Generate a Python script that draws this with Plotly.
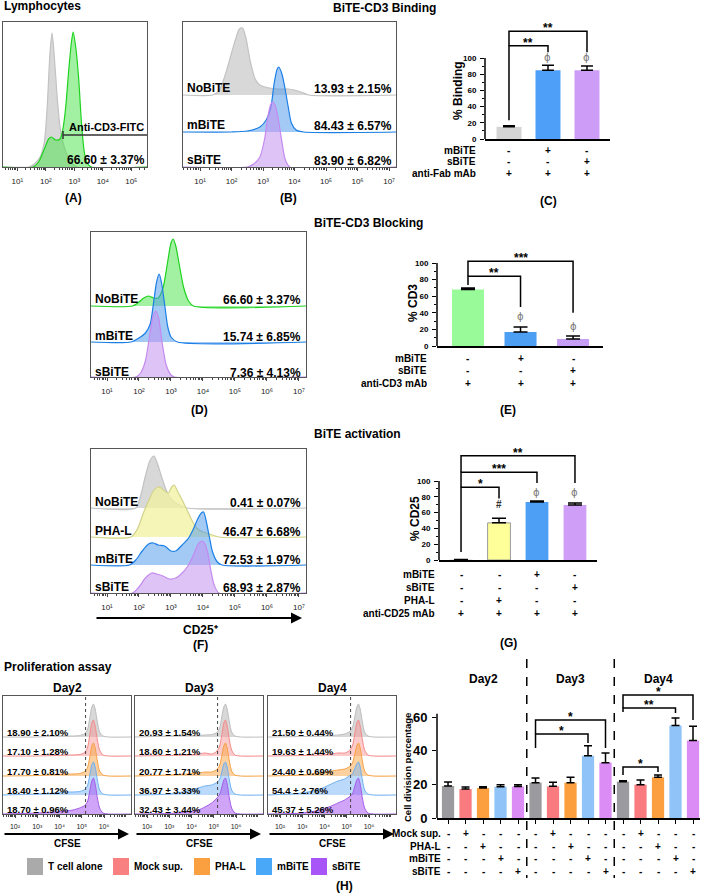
import math
import plotly.graph_objects as go

W, H = 708, 896
FONT = "Liberation Sans, Arial, Helvetica, sans-serif"
SUP = {"0": "⁰", "1": "¹", "2": "²", "3": "³", "4": "⁴", "5": "⁵", "6": "⁶", "7": "⁷", "8": "⁸", "9": "⁹"}

# ======================= DATA =======================
# (A) Lymphocytes: x = log10 fluorescence, h = histogram height
A_GRAY_X = [0.5, 1.4, 1.6, 1.8, 1.95, 2.05, 2.15, 2.22, 2.3, 2.4, 2.5, 2.6, 2.75, 2.9, 3.1, 5.55]
A_GRAY_H = [0, 0, 3, 10, 25, 60, 115, 134, 110, 70, 40, 25, 12, 4, 0, 0]
A_GREEN_X = [0.5, 1.55, 1.75, 1.95, 2.1, 2.2, 2.35, 2.5, 2.6, 2.7, 2.8, 2.9, 2.96, 3.05, 3.15, 3.25, 3.35, 3.45, 3.6, 5.55]
A_GREEN_H = [0, 0, 5, 18, 28, 30, 27, 28, 38, 60, 95, 125, 135, 120, 90, 45, 15, 4, 0, 0]
A_VALUE = "66.60 ± 3.37%"

# (B) BiTE-CD3 binding histograms
B_ROWS = ["NoBiTE", "mBiTE", "sBiTE"]
B_VALUES = ["13.93 ± 2.15%", "84.43 ± 6.57%", "83.90 ± 6.82%"]
B_GRAY_X = [0.46, 1.4, 1.6, 1.8, 2.0, 2.15, 2.25, 2.35, 2.45, 2.6, 2.75, 2.9, 3.2, 3.5, 3.8, 4.0, 4.2, 4.45, 7.22]
B_GRAY_H = [0, 0, 4, 20, 42, 58, 66, 67, 58, 33, 16, 10, 7, 6, 6, 5, 3, 0, 0]
B_BLUE_X = [0.46, 2.0, 2.5, 2.9, 3.1, 3.25, 3.35, 3.45, 3.5, 3.6, 3.7, 3.8, 3.9, 4.05, 4.3, 7.22]
B_BLUE_H = [0, 0, 1, 5, 12, 25, 48, 63, 65, 58, 43, 25, 9, 2, 0, 0]
B_PURP_X = [0.46, 2.5, 2.7, 2.9, 3.05, 3.15, 3.25, 3.32, 3.4, 3.5, 3.6, 3.7, 3.85, 7.22]
B_PURP_H = [0, 0, 3, 10, 28, 50, 63, 65, 60, 45, 25, 8, 0, 0]

# (C) % Binding
C_MEAN = [15, 85, 85]
C_UPPER = [16.5, 91, 90]
C_ROWS = ["mBiTE", "sBiTE", "anti-Fab mAb"]
C_SIGNS = [["-", "+", "-"], ["-", "-", "+"], ["+", "+", "+"]]

# (D) BiTE-CD3 blocking histograms
D_ROWS = ["NoBiTE", "mBiTE", "sBiTE"]
D_VALUES = ["66.60 ± 3.37%", "15.74 ± 6.85%", "7.36 ± 4.13%"]
D_GREEN_X = [0.5, 1.8, 2.0, 2.15, 2.3, 2.45, 2.6, 2.75, 2.9, 3.0, 3.07, 3.15, 3.25, 3.4, 3.55, 3.7, 7.22]
D_GREEN_H = [0, 0, 4, 8, 10, 8, 8, 18, 45, 63, 67, 60, 43, 18, 5, 0, 0]
D_BLUE_X = [0.5, 1.75, 2.0, 2.2, 2.35, 2.45, 2.55, 2.63, 2.7, 2.8, 2.9, 3.0, 3.2, 7.22]
D_BLUE_H = [0, 0, 4, 9, 18, 38, 60, 68, 60, 38, 15, 5, 0, 0]
D_PURP_X = [0.5, 1.9, 2.05, 2.2, 2.35, 2.45, 2.53, 2.62, 2.72, 2.85, 3.0, 3.1, 7.22]
D_PURP_H = [0, 0, 4, 16, 45, 62, 66, 58, 35, 12, 2, 0, 0]

# (E) % CD3
E_MEAN = [68, 17, 8.5]
E_UPPER = [70, 23, 12]
E_ROWS = ["mBiTE", "sBiTE", "anti-CD3 mAb"]
E_SIGNS = [["-", "+", "-"], ["-", "-", "+"], ["+", "+", "+"]]

# (F) BiTE activation histograms
F_ROWS = ["NoBiTE", "PHA-L", "mBiTE", "sBiTE"]
F_VALUES = ["0.41 ± 0.07%", "46.47 ± 6.68%", "72.53 ± 1.97%", "68.93 ± 2.87%"]
F_GRAY_X = [0.5, 1.9, 2.05, 2.2, 2.35, 2.47, 2.58, 2.7, 2.85, 3.0, 3.2, 3.5, 7.22]
F_GRAY_H = [0, 0, 12, 32, 48, 52, 44, 32, 18, 9, 4, 0, 0]
F_YEL_X = [0.5, 1.75, 1.95, 2.15, 2.3, 2.45, 2.6, 2.7, 2.8, 2.92, 3.02, 3.1, 3.2, 3.35, 3.5, 3.65, 3.8, 4.0, 4.2, 4.5, 7.22]
F_YEL_H = [0, 0, 8, 25, 36, 46, 50, 49, 46, 44, 50, 52, 46, 37, 27, 17, 9, 5, 3, 0, 0]
F_BLUE_X = [0.5, 1.7, 1.9, 2.1, 2.3, 2.45, 2.6, 2.8, 3.0, 3.15, 3.35, 3.55, 3.7, 3.85, 3.95, 4.02, 4.1, 4.2, 4.3, 4.45, 4.6, 7.22]
F_BLUE_H = [0, 0, 5, 14, 21, 22, 20, 19, 14, 14, 20, 27, 36, 47, 52, 53, 44, 28, 13, 3, 0, 0]
F_PURP_X = [0.5, 1.8, 2.0, 2.2, 2.4, 2.55, 2.75, 2.95, 3.15, 3.35, 3.55, 3.7, 3.85, 3.97, 4.05, 4.15, 4.25, 4.35, 4.5, 7.22]
F_PURP_H = [0, 0, 6, 15, 20, 19, 17, 14, 15, 20, 28, 38, 49, 52, 50, 40, 22, 8, 0, 0]

# (G) % CD25
G_MEAN = [0.41, 47, 73.4, 69.6]
G_UPPER = [0.5, 53, 74.7, 72]
G_ROWS = ["mBiTE", "sBiTE", "PHA-L", "anti-CD25 mAb"]
G_SIGNS = [["-", "-", "+", "-"], ["-", "-", "-", "+"], ["-", "+", "-", "-"], ["+", "+", "+", "+"]]

# (H) Proliferation (CFSE) histograms
H_DAYS = ["Day2", "Day3", "Day4"]
H_GROUPS = ["T cell alone", "Mock sup.", "PHA-L", "mBiTE", "sBiTE"]
H_X = [1.46, 3.0, 3.8, 4.3, 4.6, 4.9, 5.1, 5.25, 5.35, 5.45, 5.52, 5.6, 5.7, 5.8, 5.95, 6.2, 7.21]
H_CURVES = [
    [  # Day2
        [0, 0, 1, 1, 1, 1.5, 3, 7, 18, 30, 33, 28, 15, 5, 1, 0, 0],
        [0, 0, 0.5, 1, 1, 1.5, 3, 8, 20, 33, 36, 30, 16, 6, 1, 0, 0],
        [0, 0.5, 1.5, 2, 2, 2.5, 4, 8, 18, 30, 33, 28, 15, 5, 1, 0, 0],
        [0, 1, 2, 3, 3, 3.5, 5, 9, 19, 30, 33, 28, 15, 5, 1, 0, 0],
        [0, 1, 2, 3, 4, 6, 8, 12, 22, 33, 36, 30, 16, 6, 1, 0, 0],
    ],
    [  # Day3
        [0, 1, 1.5, 1.5, 2, 2.5, 4, 8, 19, 30, 33, 28, 15, 5, 1, 0, 0],
        [0, 0.5, 1, 2, 3, 2, 4, 9, 20, 33, 36, 30, 16, 6, 1, 0, 0],
        [0, 1, 2, 3, 4, 4, 6, 10, 19, 30, 33, 28, 15, 5, 1, 0, 0],
        [0, 1, 4, 7, 9, 10, 12, 15, 22, 31, 33, 28, 15, 5, 1, 0, 0],
        [0, 0.5, 2, 4, 7, 11, 15, 19, 26, 34, 36, 30, 16, 6, 1, 0, 0],
    ],
    [  # Day4
        [0, 0.5, 1, 1.5, 2, 3, 5, 9, 19, 30, 33, 28, 15, 5, 1, 0, 0],
        [0, 0.5, 1, 2, 3, 3, 5, 10, 21, 33, 36, 30, 16, 6, 1, 0, 0],
        [0, 1, 3, 5, 6, 7, 9, 13, 21, 30, 33, 28, 15, 5, 1, 0, 0],
        [0, 2, 6, 11, 14, 16, 19, 21, 26, 31, 33, 28, 15, 5, 1, 0, 0],
        [0, 1, 4, 8, 11, 14, 17, 20, 27, 34, 36, 30, 16, 6, 1, 0, 0],
    ],
]
H_GATE = 5.17
H_PCT = [
    ["18.90 ± 2.10%", "17.10 ± 1.28%", "17.70 ± 0.81%", "18.40 ± 1.12%", "18.70 ± 0.96%"],
    ["20.93 ± 1.54%", "18.60 ± 1.21%", "20.77 ± 1.71%", "36.97 ± 3.33%", "32.43 ± 3.44%"],
    ["21.50 ± 0.44%", "19.63 ± 1.44%", "24.40 ± 0.69%", "54.4 ± 2.76%", "45.37 ± 5.26%"],
]
# (H) cell division percentage bars (Day2 x5, Day3 x5, Day4 x5)
H_MEAN = [19, 17.2, 17.8, 18.6, 18.7, 21, 18.8, 21, 37, 32.9, 21.6, 19.8, 24.2, 54.9, 46]
H_UPPER = [21.4, 18.4, 18.6, 19.8, 19.8, 23.8, 21.2, 24.2, 42.9, 38.6, 22.2, 22.6, 25.5, 59.4, 54.5]
H_ROWS = ["Mock sup.", "PHA-L", "mBiTE", "sBiTE"]
H_SIGNS = [
    "-+---" "-+---" "-+---",
    "--+--" "--+--" "--+--",
    "---+-" "---+-" "---+-",
    "----+" "----+" "----+",
]

# ======================= STYLE =======================
GRAY_L, GRAY_F = "#c2c2c2", "rgba(200,200,200,0.7)"
GREEN_L, GREEN_F = "#1fd31f", "rgba(70,225,70,0.5)"
BLUE_L, BLUE_F = "#1c7fe6", "rgba(70,150,235,0.5)"
PURP_L, PURP_F = "#c48af0", "rgba(195,145,240,0.55)"
YEL_L, YEL_F = "#d2d28a", "rgba(242,242,160,0.75)"
H_LINE = ["#bdbdbd", "#f48a8a", "#f7a043", "#6fb0f2", "#a45ce8"]
H_FILL = ["rgba(190,190,190,0.6)", "rgba(248,140,140,0.45)", "rgba(250,170,80,0.55)",
          "rgba(120,180,245,0.5)", "rgba(170,90,240,0.55)"]
H_LEG = ["#aaaaaa", "#f88080", "#fba040", "#4aa8f8", "#a855f7"]
H_BAR = ["#9b9b9f", "#f97b80", "#fc9f3f", "#90c4f8", "#dc8cf5"]

layout = dict(width=W, height=H, autosize=False, margin=dict(l=0, r=0, t=0, b=0, pad=0),
              paper_bgcolor="white", plot_bgcolor="rgba(0,0,0,0)", showlegend=False,
              font=dict(family=FONT, color="black"))
traces, shapes, annos = [], [], []
_n = [0]


def new_axes(x0, x1, y0, y1, xcfg, ycfg):
    _n[0] += 1
    sfx = "" if _n[0] == 1 else str(_n[0])
    xid, yid = "x" + sfx, "y" + sfx
    layout["xaxis" + sfx] = dict(domain=[x0 / W, x1 / W], anchor=yid, automargin=False, **xcfg)
    layout["yaxis" + sfx] = dict(domain=[1 - y1 / H, 1 - y0 / H], anchor=xid, automargin=False, **ycfg)
    return xid, yid


def txt(x, y, s, size=12, xa="center", ya="middle", color="black", bold=True, angle=0,
        xref="paper", yref="paper", yshift=0):
    annos.append(dict(x=x / W if xref == "paper" else x, y=1 - y / H if yref == "paper" else y,
                      xref=xref, yref=yref, text=("<b>%s</b>" % s) if bold else s,
                      showarrow=False, xanchor=xa, yanchor=ya, textangle=angle, yshift=yshift,
                      font=dict(size=size, color=color, family=FONT)))


def hist_panel(x0, x1, y0, y1, xr, decades, tick_size=7):
    minor = [n + math.log10(k) for n in range(0, 9) for k in range(2, 10)]
    minor = [v for v in minor if xr[0] < v < xr[1]]
    xcfg = dict(range=xr, showline=True, mirror=True, linecolor="#555", linewidth=1,
                ticks="outside", ticklen=3, tickwidth=1, tickcolor="#444",
                tickmode="array", tickvals=decades,
                ticktext=["10" + SUP[str(d)] for d in decades],
                tickfont=dict(size=tick_size + 1, family=FONT, color="#222"), ticklabelstandoff=3,
                minor=dict(tickmode="array", tickvals=minor, ticks="outside", ticklen=2,
                           tickcolor="#444", tickwidth=1),
                showgrid=False, zeroline=False)
    ycfg = dict(range=[0, y1 - y0], showline=True, mirror=True, linecolor="#555", linewidth=1,
                showticklabels=False, ticks="", showgrid=False, zeroline=False)
    return new_axes(x0, x1, y0, y1, xcfg, ycfg)


def curve(ax, xs, hs, base, line, fill, width=1.2):
    traces.append(go.Scatter(x=xs, y=[base + h for h in hs], xaxis=ax[0], yaxis=ax[1],
                             mode="lines", line=dict(color=line, width=width, shape="spline", smoothing=0.7),
                             fill="toself", fillcolor=fill, hoverinfo="skip"))


def bar_panel(x0, x1, y0, ppu, ytop, xr, yticks, yminor, tick_size, axis_top, xticks=None):
    xcfg = dict(range=xr, showline=True, linecolor="black", linewidth=1.5,
                ticks="outside" if xticks else "", tickvals=xticks or [], ticklen=4, tickwidth=1.2,
                tickcolor="black", showticklabels=False, showgrid=False, zeroline=False)
    ycfg = dict(range=[0, ytop], showline=False, ticks="outside", ticklen=4, tickwidth=1.2,
                tickcolor="black", tickmode="array", tickvals=yticks,
                tickfont=dict(size=tick_size, family=FONT, color="black", weight="bold"),
                showgrid=False, zeroline=False, ticklabelstandoff=2)
    if yminor:
        ycfg["minor"] = dict(tickmode="array", tickvals=yminor, ticks="outside", ticklen=2.5,
                             tickwidth=1, tickcolor="black")
    ax = new_axes(x0, x1, y0 - ytop * ppu, y0, xcfg, ycfg)
    shapes.append(dict(type="line", xref="paper", x0=x0 / W, x1=x0 / W, yref=ax[1], y0=0, y1=axis_top,
                       line=dict(color="black", width=1.5)))
    return ax


def bars(ax, means, uppers, colors, width, errw, outline=None):
    n = len(means)
    traces.append(go.Bar(x=list(range(n)), y=means, xaxis=ax[0], yaxis=ax[1], width=width,
                         marker=dict(color=colors,
                                     line=dict(color=outline or colors,
                                               width=[1 if outline and outline[i] != colors[i] else 0 for i in range(n)])),
                         error_y=dict(type="data", symmetric=False,
                                      array=[u - m for u, m in zip(uppers, means)], arrayminus=[0] * n,
                                      color="black", thickness=1.5, width=errw),
                         hoverinfo="skip"))


def bracket(ax, xa, ya, xb, ytop, yb, label, size=12, yshift=3):
    shapes.append(dict(type="path", xref=ax[0], yref=ax[1],
                       path="M %g,%g L %g,%g L %g,%g L %g,%g" % (xa, ya, xa, ytop, xb, ytop, xb, yb),
                       line=dict(color="black", width=1.5)))
    annos.append(dict(x=(xa + xb) / 2, y=ytop, xref=ax[0], yref=ax[1], text="<b>%s</b>" % label,
                      showarrow=False, xanchor="center", yanchor="middle", yshift=yshift,
                      font=dict(size=size, family=FONT, color="black")))


def mark(ax, x, y, s, size=10, color="#777", family="DejaVu Sans"):
    annos.append(dict(x=x, y=y, xref=ax[0], yref=ax[1], text=s, showarrow=False,
                      xanchor="center", yanchor="middle", font=dict(size=size, family=family, color=color)))


def table(ax, rows, signs, ys, right, size=10):
    for name, row, y in zip(rows, signs, ys):
        txt(right, y, name, size=size, xa="right")
        for i, s in enumerate(row):
            annos.append(dict(x=i, y=1 - y / H, xref=ax[0], yref="paper", text="<b>%s</b>" % s,
                              showarrow=False, xanchor="center", yanchor="middle",
                              font=dict(size=size, family=FONT, color="black")))


def arrow(x0, x1, y):
    annos.append(dict(x=x1 / W, y=1 - y / H, xref="paper", yref="paper", ax=x0 - x1, ay=0,
                      axref="pixel", ayref="pixel", text="", showarrow=True, arrowhead=2,
                      arrowsize=1.1, arrowwidth=2, arrowcolor="black", standoff=0, startstandoff=0))


# ======================= TOP ROW =======================
txt(2, 6, "Lymphocytes", size=12, xa="left")
txt(385, 8, "BiTE-CD3 Binding", size=12)

# (A)
axA = hist_panel(3, 147, 22, 167, [0.5, 5.55], [1, 2, 3, 4, 5])
curve(axA, A_GRAY_X, A_GRAY_H, 0, GRAY_L, GRAY_F)
curve(axA, A_GREEN_X, A_GREEN_H, 0, GREEN_L, GREEN_F)
shapes.append(dict(type="line", xref="paper", yref="paper", x0=63 / W, x1=147 / W,
                   y0=1 - 135 / H, y1=1 - 135 / H, line=dict(color="#333", width=1.5)))
shapes.append(dict(type="line", xref="paper", yref="paper", x0=63 / W, x1=63 / W,
                   y0=1 - 131 / H, y1=1 - 139 / H, line=dict(color="#333", width=1.5)))
txt(106, 127, "Anti-CD3-FITC", size=11)
txt(106, 160, A_VALUE, size=12)
txt(73, 198, "(A)", size=12)

# (B)
axB = hist_panel(183, 396, 22, 167, [0.46, 7.22], [1, 2, 3, 4, 5, 6, 7])
curve(axB, B_GRAY_X, B_GRAY_H, 72, GRAY_L, GRAY_F)
curve(axB, B_BLUE_X, B_BLUE_H, 35, BLUE_L, BLUE_F)
curve(axB, B_PURP_X, B_PURP_H, 0, PURP_L, PURP_F)
for name, val, y in zip(B_ROWS, B_VALUES, [88, 125, 160]):
    txt(185, y, name, size=12, xa="left")
    txt(394, y + 1, val, size=12, xa="right")
txt(288, 198, "(B)", size=12)

# (C)
axC = bar_panel(485, 610, 139, 0.81, 152, [-0.615, 2.59], [0, 20, 40, 60, 80, 100],
                [10, 30, 50, 70, 90], 8, 100)
bars(axC, C_MEAN, C_UPPER, ["#d4d4d4", "#4d9ff7", "#cc9cf7"], 0.64, 6)
bracket(axC, 0, 23, 1, 115, 107, "**")
bracket(axC, 0, 115, 2, 133, 107, "**")
mark(axC, 1, 101, "ϕ")
mark(axC, 2, 101, "ϕ")
txt(458, 91, "% Binding", size=12, angle=-90)
table(axC, C_ROWS, C_SIGNS, [150, 162, 173], 478)
txt(548, 201, "(C)", size=12)

# ======================= BLOCKING =======================
txt(368, 223, "BiTE-CD3 Blocking", size=12)
axD = hist_panel(91, 306, 232, 377, [0.5, 7.22], [1, 2, 3, 4, 5, 6, 7])
curve(axD, D_GREEN_X, D_GREEN_H, 71, GREEN_L, GREEN_F)
curve(axD, D_BLUE_X, D_BLUE_H, 35, BLUE_L, BLUE_F)
curve(axD, D_PURP_X, D_PURP_H, 0, PURP_L, PURP_F)
for name, val, y in zip(D_ROWS, D_VALUES, [299, 336, 372]):
    txt(93, y, name, size=12, xa="left")
    txt(303, y + 1, val, size=12, xa="right")
txt(199, 410, "(D)", size=12)

axE = bar_panel(437, 603, 346, 0.83, 120, [-0.59, 2.57], [0, 20, 40, 60, 80, 100],
                [10, 30, 50, 70, 90], 8, 100)
bars(axE, E_MEAN, E_UPPER, ["#98fa98", "#4d9ff3", "#c69ef5"], 0.61, 7)
bracket(axE, 0, 73.5, 1, 84, 47, "**")
bracket(axE, 0, 84, 2, 102, 40, "***")
mark(axE, 1, 35, "ϕ")
mark(axE, 2, 24, "ϕ")
txt(413, 303, "% CD3", size=12, angle=-90)
table(axE, E_ROWS, E_SIGNS, [358, 370, 383], 429)
txt(508, 410, "(E)", size=12)

# ======================= ACTIVATION =======================
txt(358, 434, "BiTE activation", size=12)
axF = hist_panel(91, 306, 449, 593, [0.5, 7.22], [1, 2, 3, 4, 5, 6, 7])
curve(axF, F_GRAY_X, F_GRAY_H, 85, GRAY_L, GRAY_F)
curve(axF, F_YEL_X, F_YEL_H, 56, YEL_L, YEL_F)
curve(axF, F_BLUE_X, F_BLUE_H, 28, BLUE_L, BLUE_F)
curve(axF, F_PURP_X, F_PURP_H, 0, PURP_L, PURP_F)
for name, val, y in zip(F_ROWS, F_VALUES, [502, 531, 559, 587]):
    txt(93, y, name, size=12, xa="left")
    txt(303, y + 1, val, size=12, xa="right")
arrow(95, 302, 618)
txt(200, 630, "CD25⁺", size=12)
txt(200, 645, "(F)", size=12)

axG = bar_panel(439, 597, 560, 0.79, 150, [-0.58, 3.58], [0, 20, 40, 60, 80, 100],
                [10, 30, 50, 70, 90], 8, 100)
bars(axG, G_MEAN, G_UPPER, ["#d0d0d0", "#ffff99", "#4d9ff5", "#cf9ff7"], 0.6, 7,
     outline=["#d0d0d0", "#999999", "#4d9ff5", "#cf9ff7"])
bracket(axG, 0, 10, 1, 92, 78, "*")
bracket(axG, 0, 92, 2, 111, 97.5, "***")
bracket(axG, 0, 111, 3, 132, 97.5, "**")
mark(axG, 1, 70, "<b>#</b>", size=10, color="#333", family=FONT)
mark(axG, 2, 86, "ϕ")
mark(axG, 3, 86, "ϕ")
txt(415, 518, "% CD25", size=12, angle=-90)
table(axG, G_ROWS, G_SIGNS, [574, 587, 600, 613], 437)
txt(508, 643, "(G)", size=12)

# ======================= PROLIFERATION =======================
txt(2, 667, "Proliferation assay", size=12, xa="left")
boxes = [(3, 131), (135, 263), (268, 396)]
offsets = [77, 58, 38, 19, 0]
for d, (bx0, bx1) in enumerate(boxes):
    axh = hist_panel(bx0, bx1, 696, 814, [1.46, 7.21], [2, 3, 4, 5, 6], tick_size=6)
    for g in range(5):
        curve(axh, H_X, H_CURVES[d][g], offsets[g], H_LINE[g], H_FILL[g], width=1)
    shapes.append(dict(type="line", xref=axh[0], yref=axh[1], x0=H_GATE, x1=H_GATE, y0=0, y1=118,
                       line=dict(color="#444", width=1, dash="dot")))
    for g in range(5):
        txt(bx0 + 2, 814 - offsets[g] - 5, H_PCT[d][g], size=9.5, xa="left")
    cx = (bx0 + bx1) / 2
    txt(cx, 688, H_DAYS[d], size=12)
    arrow(bx0, bx1 - 2, 834)
    txt(cx, 843, "CFSE", size=10)

# legend
leg_x = [27, 113, 194, 256, 311]
for i, name in enumerate(H_GROUPS):
    shapes.append(dict(type="rect", xref="paper", yref="paper", x0=leg_x[i] / W, x1=(leg_x[i] + 16) / W,
                       y0=1 - 875 / H, y1=1 - 858 / H, fillcolor=H_LEG[i], line=dict(width=0)))
    txt(leg_x[i] + 19, 866, name, size=10, xa="left")
txt(344, 886, "(H)", size=12)

# H bar chart
axHB = bar_panel(437, 700, 818, 1.683, 82, [-0.63, 14.4], [0, 20, 40, 60], None, 13, 62,
                 xticks=list(range(15)))
bars(axHB, H_MEAN, H_UPPER, H_BAR * 3, 0.7, 4)
bracket(axHB, 5, 41.6, 8, 49.9, 44.6, "*")
bracket(axHB, 5, 49.9, 9, 58.2, 41.6, "*")
bracket(axHB, 10, 25.5, 12, 30.3, 27.3, "*")
bracket(axHB, 10, 63, 13, 65.4, 62.4, "**")
bracket(axHB, 10, 65.4, 14, 73.1, 58.2, "*")
for xv in (4.5, 9.5):
    shapes.append(dict(type="line", xref=axHB[0], yref="paper", x0=xv, x1=xv,
                       y0=1 - 659 / H, y1=1 - 878 / H, line=dict(color="black", width=1.5, dash="dash")))
for d in range(3):
    annos.append(dict(x=2 + 5 * d, y=1 - 679 / H, xref=axHB[0], yref="paper", text="<b>%s</b>" % H_DAYS[d],
                      showarrow=False, xanchor="center", yanchor="middle",
                      font=dict(size=12, family=FONT, color="black")))
txt(407, 767, "Cell division percentage", size=9.5, angle=-90)
table(axHB, H_ROWS, [list(s) for s in H_SIGNS], [833, 846, 858, 871], 443, size=10)

layout["shapes"] = shapes
layout["annotations"] = annos
fig = go.Figure(data=traces, layout=layout)
fig.write_html("out.html", include_plotlyjs=True, config={"displayModeBar": False},
               post_script="document.body.style.margin='0';document.body.style.overflow='hidden';")
